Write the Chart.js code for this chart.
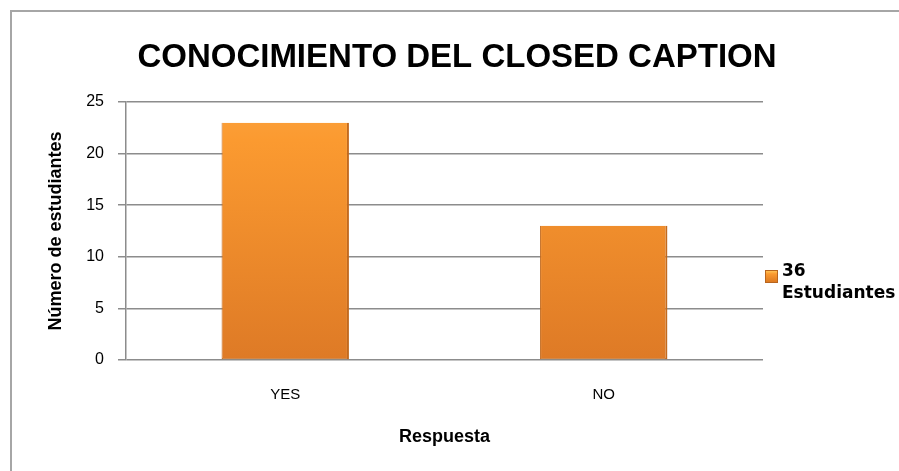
<!DOCTYPE html>
<html>
<head>
<meta charset="utf-8">
<script src="https://cdn.jsdelivr.net/npm/chart.js@4/dist/chart.umd.min.js"></script>
<style>
html,body{margin:0;padding:0;background:#fff;}
#wrap{width:899px;height:471px;position:relative;}
</style>
</head>
<body>
<div id="wrap"><canvas id="c" width="899" height="471"></canvas></div>
<script>
const chartTitle = "CONOCIMIENTO DEL CLOSED CAPTION";
const categories = ["YES", "NO"];
const seriesName = ["36", "Estudiantes"];
const values = [23, 13];
const yTicks = [0, 5, 10, 15, 20, 25];
const yTitle = "Número de estudiantes";
const xTitle = "Respuesta";

function barFill(ctx) {
  const chart = ctx.chart;
  const area = chart.chartArea;
  if (!area) return '#f0902e';
  const el = ctx.element;
  const top = el && el.y !== undefined ? el.y : area.top;
  const bottom = area.bottom;
  const g = chart.ctx.createLinearGradient(0, top, 0, bottom);
  g.addColorStop(0, '#ffd060');
  g.addColorStop(0.03, '#fba03a');
  g.addColorStop(0.15, '#fb9a30');
  g.addColorStop(1, '#de7a26');
  return g;
}

const framePlugin = {
  id: 'frame',
  beforeDraw(chart) {
    const c = chart.ctx;
    c.save();
    c.fillStyle = '#ffffff';
    c.fillRect(0, 0, chart.width, chart.height);
    c.strokeStyle = '#a6a6a6';
    c.lineWidth = 2;
    c.beginPath();
    c.moveTo(11, chart.height);
    c.lineTo(11, 11);
    c.lineTo(chart.width, 11);
    c.stroke();
    c.restore();
  },
  afterDraw(chart) {
    const c = chart.ctx;
    c.save();
    // title
    c.fillStyle = '#000000';
    c.font = 'bold 33px "Liberation Sans"';
    c.textAlign = 'center';
    c.textBaseline = 'middle';
    c.fillText(chartTitle, 457, 58);
    // legend
    const lx = 765, ly = 270, s = 13;
    const g = c.createLinearGradient(0, ly, 0, ly + s);
    g.addColorStop(0, '#ffd060');
    g.addColorStop(0.3, '#fb9a30');
    g.addColorStop(1, '#d9761f');
    c.fillStyle = g;
    c.fillRect(lx, ly, s, s);
    c.strokeStyle = '#b8651e';
    c.lineWidth = 1;
    c.strokeRect(lx + 0.5, ly + 0.5, s - 1, s - 1);
    c.fillStyle = '#000000';
    c.font = 'bold 17px "DejaVu Sans"';
    c.textAlign = 'left';
    c.textBaseline = 'alphabetic';
    c.fillText(seriesName[0], 782, 276);
    c.fillText(seriesName[1], 782, 298);
    c.restore();
  }
};

new Chart(document.getElementById('c'), {
  type: 'bar',
  data: {
    labels: categories,
    datasets: [{
      label: seriesName.join(' '),
      data: values,
      backgroundColor: barFill,
      borderColor: '#c26a1e',
      borderWidth: {left: 1, right: 2, top: 0, bottom: 1},
      borderSkipped: false,
      barPercentage: 0.4,
      categoryPercentage: 1.0
    }]
  },
  options: {
    responsive: false,
    animation: false,
    devicePixelRatio: 1,
    layout: {padding: {top: 102, left: 0, right: 136, bottom: 0}},
    plugins: {
      legend: {display: false},
      title: {display: false},
      tooltip: {enabled: false}
    },
    scales: {
      x: {
        grid: {display: false, drawTicks: false},
        border: {display: false},
        ticks: {
          padding: 26,
          color: '#000000',
          font: {family: '"Liberation Sans"', size: 15}
        },
        title: {
          display: true,
          text: xTitle,
          color: '#000000',
          font: {family: '"Liberation Sans"', size: 18, weight: 'bold'},
          padding: {top: 0, bottom: 23}
        },
        afterFit(scale) { scale.height = 471 - 360; }
      },
      y: {
        min: 0,
        max: 25,
        afterBuildTicks(scale) { scale.ticks = yTicks.map(v => ({value: v})); },
        grid: {color: '#8c8c8c', lineWidth: 1.5, tickLength: 8, drawTicks: true},
        border: {display: true, color: '#8c8c8c', width: 1.5},
        ticks: {
          padding: 14,
          color: '#000000',
          font: {family: '"Liberation Sans"', size: 16}
        },
        title: {
          display: true,
          text: yTitle,
          color: '#000000',
          font: {family: '"Liberation Sans"', size: 18, weight: 'bold'},
          padding: {top: 45, bottom: 0}
        },
        afterFit(scale) { scale.width = 126; }
      }
    }
  },
  plugins: [framePlugin]
});
</script>
</body>
</html>
